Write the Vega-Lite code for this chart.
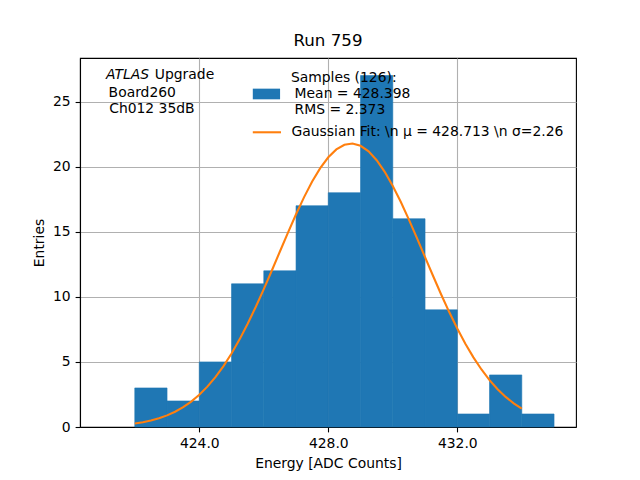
{
  "$schema": "https://vega.github.io/schema/vega-lite/v6.json",
  "autosize": "none",
  "width": 496,
  "height": 369,
  "padding": {"left": 80, "top": 58, "right": 64, "bottom": 53},
  "background": "white",
  "title": {"text": "Run 759"},
  "config": {
    "font": "DejaVu Sans",
    "view": {"stroke": "black", "strokeWidth": 1.1},
    "title": {"fontSize": 16.7, "fontWeight": "normal", "color": "black", "font": "DejaVu Sans", "baseline": "alphabetic", "offset": 8},
    "axis": {
      "grid": true,
      "gridColor": "#b0b0b0",
      "gridWidth": 1.1,
      "domainColor": "black",
      "domainWidth": 1.1,
      "tickColor": "black",
      "tickWidth": 1.1,
      "tickSize": 4.9,
      "labelFont": "DejaVu Sans",
      "labelFontSize": 13.9,
      "labelColor": "black",
      "labelPadding": 4.9,
      "titleFont": "DejaVu Sans",
      "titleFontSize": 13.9,
      "titleFontWeight": "normal",
      "titleColor": "black",
      "zindex": 1
    },
    "text": {"font": "DejaVu Sans", "fontSize": 13.9, "color": "black", "baseline": "alphabetic", "align": "left"}
  },
  "layer": [
    {
      "data": {
        "values": [
          {"bin_start": 422, "bin_end": 423, "count": 3},
          {"bin_start": 423, "bin_end": 424, "count": 2},
          {"bin_start": 424, "bin_end": 425, "count": 5},
          {"bin_start": 425, "bin_end": 426, "count": 11},
          {"bin_start": 426, "bin_end": 427, "count": 12},
          {"bin_start": 427, "bin_end": 428, "count": 17},
          {"bin_start": 428, "bin_end": 429, "count": 18},
          {"bin_start": 429, "bin_end": 430, "count": 27},
          {"bin_start": 430, "bin_end": 431, "count": 16},
          {"bin_start": 431, "bin_end": 432, "count": 9},
          {"bin_start": 432, "bin_end": 433, "count": 1},
          {"bin_start": 433, "bin_end": 434, "count": 4},
          {"bin_start": 434, "bin_end": 435, "count": 1}
        ]
      },
      "mark": {"type": "rect", "color": "#1f77b4", "stroke": "#1f77b4", "strokeWidth": 0.6},
      "encoding": {
        "x": {
          "field": "bin_start",
          "type": "quantitative",
          "scale": {"domain": [420.301, 435.681], "nice": false, "zero": false},
          "axis": {"values": [424, 428, 432], "format": ".1f", "title": "Energy [ADC Counts]", "titlePadding": 6}
        },
        "x2": {"field": "bin_end"},
        "y": {
          "field": "count",
          "type": "quantitative",
          "scale": {"domain": [0, 28.35], "nice": false},
          "axis": {"values": [0, 5, 10, 15, 20, 25], "title": "Entries", "titlePadding": 6}
        },
        "y2": {"datum": 0}
      }
    },
    {
      "data": {
        "values": [
          {"energy": 422.00, "fit": 0.2643},
          {"energy": 422.25, "fit": 0.3649},
          {"energy": 422.50, "fit": 0.4977},
          {"energy": 422.75, "fit": 0.6705},
          {"energy": 423.00, "fit": 0.8922},
          {"energy": 423.25, "fit": 1.1728},
          {"energy": 423.50, "fit": 1.5230},
          {"energy": 423.75, "fit": 1.9536},
          {"energy": 424.00, "fit": 2.4756},
          {"energy": 424.25, "fit": 3.0990},
          {"energy": 424.50, "fit": 3.8320},
          {"energy": 424.75, "fit": 4.6809},
          {"energy": 425.00, "fit": 5.6484},
          {"energy": 425.25, "fit": 6.7328},
          {"energy": 425.50, "fit": 7.9279},
          {"energy": 425.75, "fit": 9.2216},
          {"energy": 426.00, "fit": 10.5958},
          {"energy": 426.25, "fit": 12.0267},
          {"energy": 426.50, "fit": 13.4849},
          {"energy": 426.75, "fit": 14.9360},
          {"energy": 427.00, "fit": 16.3420},
          {"energy": 427.25, "fit": 17.6629},
          {"energy": 427.50, "fit": 18.8583},
          {"energy": 427.75, "fit": 19.8899},
          {"energy": 428.00, "fit": 20.7226},
          {"energy": 428.25, "fit": 21.3277},
          {"energy": 428.50, "fit": 21.6835},
          {"energy": 428.75, "fit": 21.7771},
          {"energy": 429.00, "fit": 21.6051},
          {"energy": 429.25, "fit": 21.1738},
          {"energy": 429.50, "fit": 20.4987},
          {"energy": 429.75, "fit": 19.6037},
          {"energy": 430.00, "fit": 18.5199},
          {"energy": 430.25, "fit": 17.2832},
          {"energy": 430.50, "fit": 15.9328},
          {"energy": 430.75, "fit": 14.5094},
          {"energy": 431.00, "fit": 13.0524},
          {"energy": 431.25, "fit": 11.5989},
          {"energy": 431.50, "fit": 10.1820},
          {"energy": 431.75, "fit": 8.8294},
          {"energy": 432.00, "fit": 7.5634},
          {"energy": 432.25, "fit": 6.4000},
          {"energy": 432.50, "fit": 5.3498},
          {"energy": 432.75, "fit": 4.4176},
          {"energy": 433.00, "fit": 3.6034},
          {"energy": 433.25, "fit": 2.9035},
          {"energy": 433.50, "fit": 2.3111},
          {"energy": 433.75, "fit": 1.8172},
          {"energy": 434.00, "fit": 1.4115}
        ]
      },
      "mark": {"type": "line", "color": "#ff7f0e", "strokeWidth": 2.08},
      "encoding": {
        "x": {"field": "energy", "type": "quantitative"},
        "y": {"field": "fit", "type": "quantitative"}
      }
    },
    {
      "data": {"values": [{}]},
      "mark": {"type": "rect", "color": "#1f77b4", "strokeWidth": 0},
      "encoding": {
        "x": {"datum": 425.659},
        "x2": {"datum": 426.505},
        "y": {"datum": 25.995},
        "y2": {"datum": 25.175}
      }
    },
    {
      "data": {"values": [{}]},
      "mark": {"type": "rule", "color": "#ff7f0e", "strokeWidth": 2.08},
      "encoding": {
        "x": {"datum": 425.659},
        "x2": {"datum": 426.533},
        "y": {"datum": 22.643}
      }
    },
    {
      "data": {"values": [{}]},
      "mark": {"type": "text", "text": "ATLAS", "fontStyle": "italic"},
      "encoding": {"x": {"datum": 421.107}, "y": {"datum": 26.709}}
    },
    {
      "data": {"values": [{}]},
      "mark": {"type": "text", "text": "Upgrade"},
      "encoding": {"x": {"datum": 422.620}, "y": {"datum": 26.709}}
    },
    {
      "data": {"values": [{}]},
      "mark": {"type": "text", "text": "Board260"},
      "encoding": {"x": {"datum": 421.188}, "y": {"datum": 25.351}}
    },
    {
      "data": {"values": [{}]},
      "mark": {"type": "text", "text": "Ch012 35dB"},
      "encoding": {"x": {"datum": 421.206}, "y": {"datum": 24.155}}
    },
    {
      "data": {"values": [{}]},
      "mark": {"type": "text", "text": "Samples (126):"},
      "encoding": {"x": {"datum": 426.840}, "y": {"datum": 26.532}}
    },
    {
      "data": {"values": [{}]},
      "mark": {"type": "text", "text": "Mean = 428.398"},
      "encoding": {"x": {"datum": 426.955}, "y": {"datum": 25.274}}
    },
    {
      "data": {"values": [{}]},
      "mark": {"type": "text", "text": "RMS = 2.373"},
      "encoding": {"x": {"datum": 426.955}, "y": {"datum": 24.047}}
    },
    {
      "data": {"values": [{}]},
      "mark": {"type": "text", "text": "Gaussian Fit: \\n μ = 428.713 \\n σ=2.26"},
      "encoding": {"x": {"datum": 426.859}, "y": {"datum": 22.336}}
    }
  ]
}
